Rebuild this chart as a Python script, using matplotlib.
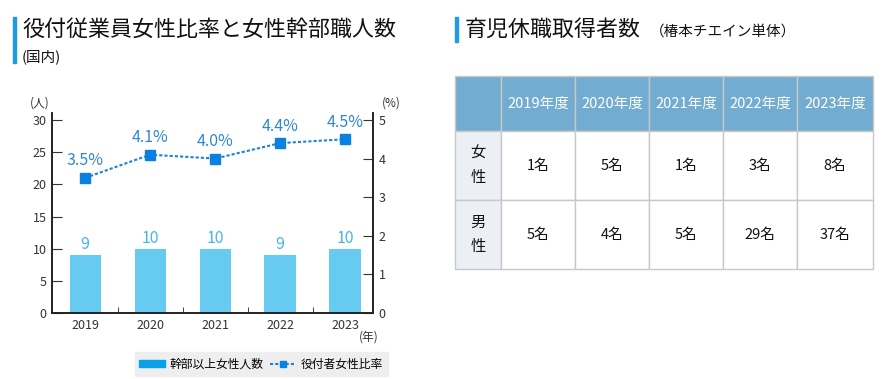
import matplotlib
matplotlib.use("Agg")
import matplotlib.pyplot as plt
from matplotlib.patches import Rectangle
import numpy as np

plt.rcParams['font.family'] = ['Noto Sans CJK JP', 'DejaVu Sans']

W, H = 883, 379

# data
years = ['2019', '2020', '2021', '2022', '2023']
managers = [9, 10, 10, 9, 10]
ratio = [3.5, 4.1, 4.0, 4.4, 4.5]

fy_labels = ['2019年度', '2020年度', '2021年度', '2022年度', '2023年度']
leave_rows = ['女\n性', '男\n性']
leave_women = [1, 5, 1, 3, 8]
leave_men = [5, 4, 5, 29, 37]

BAR = '#67CAF1'
BAR_TXT = '#45B6E8'
LINE = '#1B82D8'
LINE_TXT = '#2F88D2'
AXC = '#222222'
TICKC = '#333333'

fig = plt.figure(figsize=(W/100, H/100), dpi=100)

def px(x0, y0, x1, y1):
    # left, top, right, bottom in pixels -> figure rect
    return [x0/W, 1 - y1/H, (x1-x0)/W, (y1-y0)/H]

# overlay for titles / table
ov = fig.add_axes([0, 0, 1, 1])
ov.set_xlim(0, W)
ov.set_ylim(H, 0)
ov.axis('off')

# left title
ov.add_patch(Rectangle((13, 17), 2.5, 46, color='#1C9BE6'))
ov.text(22, 30, '役付従業員女性比率と女性幹部職人数', fontsize=15.8, va='center', color='#111111')
ov.text(22, 57, '(国内)', fontsize=10.5, va='center', color='#111111')

# right title
ov.add_patch(Rectangle((455, 17), 2.5, 25, color='#1C9BE6'))
ov.text(465, 30, '育児休職取得者数', fontsize=15.8, va='center', color='#111111')
ov.text(650, 32, '（椿本チエイン単体）', fontsize=10.5, va='center', color='#111111')

# table
col_x = [455, 501, 575, 649, 723, 797, 873]
row_y = [76, 131, 200, 269]
grid = '#C8C8C8'
for c in range(6):
    for r in range(3):
        if r == 0:
            fc = '#72ACD0'
        elif c == 0:
            fc = '#ECF0F4'
        else:
            fc = 'white'
        ov.add_patch(Rectangle((col_x[c], row_y[r]), col_x[c+1]-col_x[c], row_y[r+1]-row_y[r],
                               facecolor=fc, edgecolor=grid, lw=1))
for i, lab in enumerate(fy_labels):
    ov.text((col_x[i+1]+col_x[i+2])/2, (row_y[0]+row_y[1])/2, lab, fontsize=10.5,
            color='white', ha='center', va='center')
for r, lab in enumerate(leave_rows):
    ov.text((col_x[0]+col_x[1])/2, (row_y[r+1]+row_y[r+2])/2, lab, fontsize=11,
            ha='center', va='center', linespacing=1.6, color='#111111')
for r, vals in enumerate([leave_women, leave_men]):
    for i, v in enumerate(vals):
        ov.text((col_x[i+1]+col_x[i+2])/2, (row_y[r+1]+row_y[r+2])/2, f'{v}名',
                fontsize=10.5, ha='center', va='center', color='#111111')

# chart
ax = fig.add_axes(px(52, 113, 373, 313))
x = np.arange(len(years))
ax.bar(x, managers, width=0.48, color=BAR, label='幹部以上女性人数', zorder=2)
for xi, v in zip(x, managers):
    ax.text(xi, v + 0.3, str(v), ha='center', va='bottom', fontsize=11.5, color=BAR_TXT)
ax.set_xlim(-0.51, 4.43)
ax.set_ylim(0, 31.1)
ax.set_yticks(range(0, 31, 5))
ax.set_xticks(x)
ax.set_xticklabels(years)
ax.set_xticks(x[:-1] + 0.5, minor=True)
ax.tick_params(axis='x', which='major', length=0, labelsize=9, colors=TICKC, pad=4)
ax.tick_params(axis='x', which='minor', direction='in', length=4, color=AXC)
ax.tick_params(axis='y', direction='in', length=7, labelsize=9, colors=TICKC, pad=4)
ax.spines['top'].set_visible(False)
for s in ['left', 'bottom', 'right']:
    ax.spines[s].set_color(AXC)
    ax.spines[s].set_linewidth(1.2)

ax2 = ax.twinx()
ax2.plot(x, ratio, ls=(0, (1.5, 1)), lw=1.5, color=LINE, marker='s', ms=7,
         mfc='#0A80E0', mec='#0A80E0', label='役付者女性比率', zorder=3)
for xi, v in zip(x, ratio):
    ax2.text(xi, v + 0.22, f'{v:.1f}%', ha='center', va='bottom', fontsize=11.5, color=LINE_TXT)
ax2.set_ylim(0, 5.18)
ax2.set_yticks(range(0, 6))
ax2.tick_params(axis='y', direction='in', length=7, labelsize=9, colors=TICKC, pad=4)
ax2.spines['top'].set_visible(False)
for s in ['left', 'bottom', 'right']:
    ax2.spines[s].set_color(AXC)
    ax2.spines[s].set_linewidth(1.2)

ov.text(40, 103, '(人)', fontsize=8.5, ha='center', va='center', color=TICKC)
ov.text(391, 103, '(%)', fontsize=8.5, ha='center', va='center', color=TICKC)
ov.text(369, 337, '(年)', fontsize=8.5, ha='center', va='center', color=TICKC)

# legend
ov.add_patch(Rectangle((135, 352), 253, 24, color='#EEEEEE'))
h1, l1 = ax.get_legend_handles_labels()
h2, l2 = ax2.get_legend_handles_labels()
leg = fig.legend(h1 + h2, l1 + l2, ncol=2, loc='center', bbox_to_anchor=(261/W, 1 - 364/H),
                 frameon=False, fontsize=8.5, handlelength=2.2, handleheight=0.6,
                 columnspacing=0.5, handletextpad=0.4, markerscale=0.7)
leg.legend_handles[0].set_color('#0AA0E8')

fig.savefig('out.png', dpi=100)
